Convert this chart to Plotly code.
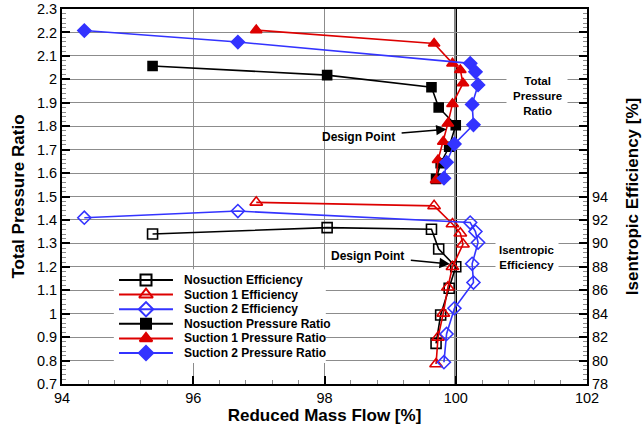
import plotly.graph_objects as go

# Reduced mass flow [%] for each configuration
nosuction_flow = [95.38, 98.04, 99.63, 99.74, 100.00, 99.90, 99.77, 99.70]
suction1_flow = [96.96, 99.67, 99.95, 100.07, 100.11, 99.95, 99.88, 99.81, 99.73, 99.70]
suction2_flow = [94.34, 96.68, 100.22, 100.30, 100.34, 100.25, 100.27, 99.98, 99.86, 99.82]

# Total pressure ratio
nosuction_pr = [2.057, 2.018, 1.966, 1.880, 1.804, 1.712, 1.642, 1.575]
suction1_pr = [2.210, 2.153, 2.068, 2.040, 1.983, 1.895, 1.812, 1.734, 1.656, 1.570]
suction2_pr = [2.208, 2.159, 2.068, 2.032, 1.976, 1.893, 1.806, 1.724, 1.646, 1.578]

# Isentropic efficiency [%]
nosuction_eff = [90.80, 91.34, 91.20, 89.52, 88.00, 86.17, 83.89, 81.47]
suction1_eff = [93.50, 93.20, 91.65, 90.86, 89.92, 88.00, 86.25, 84.03, 81.98, 79.71]
suction2_eff = [92.19, 92.76, 91.78, 91.01, 90.07, 88.26, 86.66, 84.46, 82.27, 79.86]

legend_labels = [
    "Nosuction Efficiency",
    "Suction 1 Efficiency",
    "Suction 2 Efficiency",
    "Nosuction Pressure Ratio",
    "Suction 1 Pressure Ratio",
    "Suction 2 Pressure Ratio",
]

x_ticks = [94, 96, 98, 100, 102]
eff_ticks = list(range(78, 112, 2))
eff_labels_max = 94

FONT = "Liberation Sans, Arial, sans-serif"
BLACK = "#000000"
RED = "#dd0000"
BLUE = "#3333ff"
GRID = "#8c8c8c"

# (label, flow, values, axis, color, symbol, size)
series = [
    (legend_labels[0], nosuction_flow, nosuction_eff, "y2", BLACK, "square-open", 10),
    (legend_labels[1], suction1_flow, suction1_eff, "y2", RED, "triangle-up-open", 11),
    (legend_labels[2], suction2_flow, suction2_eff, "y2", BLUE, "diamond-open", 10),
    (legend_labels[3], nosuction_flow, nosuction_pr, "y", BLACK, "square", 9),
    (legend_labels[4], suction1_flow, suction1_pr, "y", RED, "triangle-up", 10),
    (legend_labels[5], suction2_flow, suction2_pr, "y", BLUE, "diamond", 10),
]

fig = go.Figure()

for name, flow, vals, axis, color, symbol, size in series:
    fig.add_trace(go.Scatter(
        x=flow, y=vals, yaxis=axis, name=name, mode="lines+markers",
        line=dict(color=color, width=1.6),
        marker=dict(symbol=symbol, size=size, color=color, opacity=1,
                    line=dict(color=color, width=1.6)),
        showlegend=False, cliponaxis=False,
    ))

# Hand-built legend: samples on their own hidden axes, labels in paper space
LEG_TOP = 0.2773     # paper y of first row
LEG_STEP = 0.0389    # paper spacing between rows
LEG_TEXT_X = 0.2286  # paper x where labels start
for i, (name, flow, vals, axis, color, symbol, size) in enumerate(series):
    fig.add_trace(go.Scatter(
        x=[0, 0.5, 1], y=[i, i, i], xaxis="x3", yaxis="y3", mode="lines+markers",
        line=dict(color=color, width=2),
        marker=dict(symbol=symbol, size=[0, size + 1, 0], color=color, opacity=1,
                    line=dict(color=color, width=2)),
        showlegend=False, cliponaxis=False, hoverinfo="skip",
    ))
    fig.add_annotation(
        x=LEG_TEXT_X, y=LEG_TOP - LEG_STEP * i, xref="paper", yref="paper",
        text=name, showarrow=False, xanchor="left", yanchor="middle",
        font=dict(family=FONT, size=12, color=BLACK, weight="bold"),
    )

axis_common = dict(
    showline=True, linecolor=BLACK, linewidth=2,
    ticks="inside", ticklen=8, tickwidth=2, tickcolor=BLACK,
    tickfont=dict(family=FONT, size=14.5, color=BLACK),
    zeroline=False, automargin=False,
)

fig.update_layout(
    width=642, height=425,
    margin=dict(l=62, r=55, t=9, b=41),
    paper_bgcolor="white", plot_bgcolor="white",
    font=dict(family=FONT, color=BLACK),
    xaxis=dict(
        range=[94, 102], tickmode="array", tickvals=x_ticks, mirror=True,
        showgrid=True, gridcolor=GRID, gridwidth=1,
        minor=dict(ticks="inside", ticklen=4, tickwidth=1, tickcolor=GRID,
                   tick0=94, dtick=0.4, showgrid=False),
        title=dict(text="Reduced Mass Flow [%]", standoff=4,
                   font=dict(family=FONT, size=17, color=BLACK, weight="bold")),
        **axis_common,
    ),
    yaxis=dict(
        range=[0.7, 2.3], tick0=0.7, dtick=0.1, mirror=True,
        showgrid=True, gridcolor=GRID, gridwidth=1,
        minor=dict(ticks="inside", ticklen=4, tickwidth=1, tickcolor=GRID,
                   tick0=0.7, dtick=0.02, showgrid=False),
        title=dict(text="Total Pressure Ratio", standoff=8,
                   font=dict(family=FONT, size=17, color=BLACK, weight="bold")),
        **axis_common,
    ),
    yaxis2=dict(
        overlaying="y", side="right", range=[78, 110],
        tickmode="array", tickvals=eff_ticks,
        ticktext=[str(v) if v <= eff_labels_max else "" for v in eff_ticks],
        showgrid=False,
        minor=dict(ticks="inside", ticklen=4, tickwidth=1, tickcolor=GRID,
                   tick0=78, dtick=0.4, showgrid=False),
        title=dict(text="Isentropic Efficiency [%]", standoff=24,
                   font=dict(family=FONT, size=17, color=BLACK, weight="bold")),
        **axis_common,
    ),
    xaxis3=dict(domain=[0.1086, 0.2114], range=[0, 1], anchor="y3", visible=False),
    yaxis3=dict(domain=[0.0632, 0.2968], range=[5.5, -0.5], anchor="x3", visible=False),
)

# Design flow line
fig.add_shape(type="line", xref="x", yref="paper", x0=100, x1=100, y0=0, y1=1,
              line=dict(color=BLACK, width=2.5), layer="between")

# White backing behind the legend
fig.add_shape(type="rect", xref="x", yref="y", x0=94.79, x1=98.02, y0=0.79, y1=1.19,
              fillcolor="white", line=dict(width=0), layer="between")

label_font = dict(family=FONT, size=12, color=BLACK, weight="bold")

# Design point callouts
fig.add_annotation(x=99.86, y=1.787, xref="x", yref="y", ax=98.52, ay=1.755,
                   axref="x", ayref="y", text="Design Point", font=label_font,
                   showarrow=True, arrowhead=2, arrowsize=1.3, arrowwidth=1.6,
                   arrowcolor=BLACK, borderpad=6, standoff=0)
fig.add_annotation(x=99.91, y=88.24, xref="x", yref="y2", ax=98.66, ay=88.92,
                   axref="x", ayref="y2", text="Design Point", font=label_font,
                   showarrow=True, arrowhead=2, arrowsize=1.3, arrowwidth=1.6,
                   arrowcolor=BLACK, borderpad=6, standoff=0)

# Group labels with white boxes
fig.add_annotation(x=101.24, y=1.922, xref="x", yref="y", text=" ", showarrow=False,
                   width=60, height=40, bgcolor="white", borderpad=0)
fig.add_annotation(x=101.24, y=1.928, xref="x", yref="y",
                   text="Total<br>Pressure<br>Ratio", showarrow=False,
                   font=dict(family=FONT, size=11.5, color=BLACK, weight="bold"))

fig.add_annotation(x=101.09, y=88.8, xref="x", yref="y2", text=" ", showarrow=False,
                   width=62, height=28, bgcolor="white", borderpad=0)
fig.add_annotation(x=101.09, y=88.8, xref="x", yref="y2",
                   text="Isentropic<br>Efficiency", showarrow=False,
                   font=dict(family=FONT, size=11.5, color=BLACK, weight="bold"))

fig.write_html("out.html")
